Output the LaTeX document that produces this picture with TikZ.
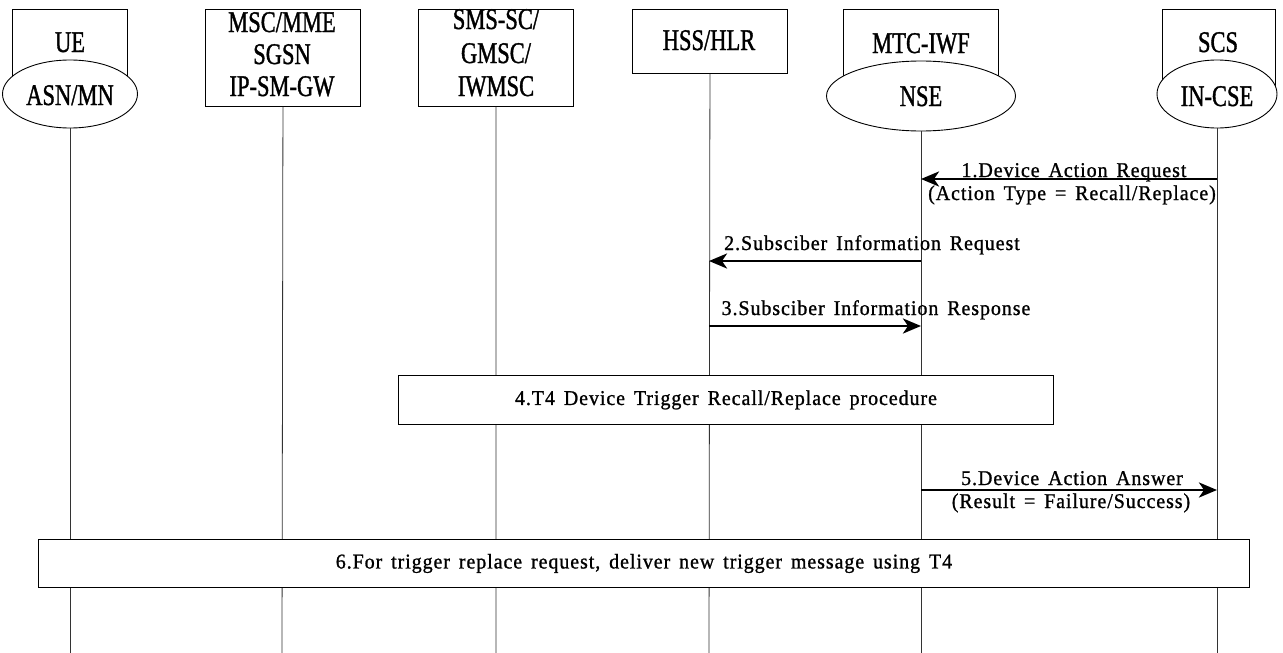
\documentclass[tikz,border=0pt]{standalone}
\usepackage{fontspec}
\newfontfamily\hfont{Liberation Serif}[FakeStretch=0.75,FakeBold=1.2]
\newfontfamily\lfont{Liberation Serif}[FakeStretch=0.95,FakeBold=1.0,WordSpace=1.5,LetterSpace=4.5]
\newcommand\htext{\hfont\fontsize{30}{32}\selectfont}
\newcommand\ltext{\lfont\fontsize{21}{24}\selectfont}
\usetikzlibrary{shapes.geometric,arrows.meta}
\begin{document}
\begin{tikzpicture}[x=1pt,y=-1pt,
 hbox/.style={draw,line width=0.9pt,fill=white,inner sep=0pt,anchor=north west},
 ell/.style={ellipse,draw,line width=0.9pt,fill=white,inner sep=0pt},
 htxt/.style={font=\htext,inner sep=0pt,anchor=base},
 ltxt/.style={font=\ltext,inner sep=0pt,anchor=base},
 life/.style={line width=0.8pt,draw=black!80},
 msg/.style={line width=2.8pt,-{Stealth[length=18pt,width=15pt,inset=5pt]}},
 stepbox/.style={draw,line width=0.9pt,fill=white,inner sep=0pt,anchor=north west,font=\ltext}
]
\useasboundingbox (0,0) rectangle (1283,653);
\fill[white] (0,0) rectangle (1283,653);

% lifeline bottoms
\coordinate (ueE) at (70,653);
\coordinate (mscE) at (282,653);
\coordinate (smsE) at (496,653);
\coordinate (hssE) at (709,653);
\coordinate (nseE) at (921,653);
\coordinate (cseE) at (1217,653);

% header boxes
\node[hbox, minimum width=115, minimum height=86] (uebox) at (12,9) {};
\node[hbox, minimum width=155, minimum height=97] (msc) at (205,9) {};
\node[hbox, minimum width=155, minimum height=97] (sms) at (418,9) {};
\node[hbox, minimum width=155, minimum height=64] (hss) at (632,9) {};
\node[hbox, minimum width=155, minimum height=86] (mtcbox) at (843,9) {};
\node[hbox, minimum width=113, minimum height=86] (scsbox) at (1162,9) {};

\node[htxt] (uet) at (70,52) {UE};
\node[htxt] (msct1) at (282,32) {MSC/MME};
\node[htxt] (msct2) at (282,64) {SGSN};
\node[htxt] (msct3) at (282,96) {IP-SM-GW};
\node[htxt] (smst1) at (496,29) {SMS-SC/};
\node[htxt] (smst2) at (496,63) {GMSC/};
\node[htxt] (smst3) at (496,96) {IWMSC};
\node[htxt] (hsst) at (709,50) {HSS/HLR};
\node[htxt] (mtct) at (921,53) {MTC-IWF};
\node[htxt] (scst) at (1218,52) {SCS};

% ellipses
\node[ell, minimum width=135, minimum height=68] (ue) at (70,94) {};
\node[ell, minimum width=189, minimum height=70] (nse) at (921,96) {};
\node[ell, minimum width=120, minimum height=68] (cse) at (1217,94) {};
\node[htxt] (uel) at (70,105) {ASN/MN};
\node[htxt] (nsel) at (921,106) {NSE};
\node[htxt] (csel) at (1217,106) {IN-CSE};

% lifelines
\draw[life] (ue.south) -- (ueE);
\draw[life] (msc.south) -- (mscE);
\draw[life] (sms.south) -- (smsE);
\draw[life] (hss.south) -- (hssE);
\draw[life] (nse.south) -- (nseE);
\draw[life] (cse.south) -- (cseE);

% message rows
\coordinate (r1) at (0,179);
\coordinate (r2) at (0,261);
\coordinate (r3) at (0,326);
\coordinate (r5) at (0,490);

\draw[msg] (cseE |- r1) -- (nseE |- r1);
\node[ltxt] (l1a) at (1074,177) {1.Device Action Request};
\node[ltxt] (l1b) at (1072,200) {(Action Type = Recall/Replace)};

\draw[msg] (nseE |- r2) -- (hssE |- r2);
\node[ltxt] (l2) at (872,250) {2.Subsciber Information Request};

\draw[msg] (hssE |- r3) -- (nseE |- r3);
\node[ltxt] (l3) at (876,315) {3.Subsciber Information Response};

\node[stepbox, minimum width=655, minimum height=49] (p4) at (398,375) {4.T4 Device Trigger Recall/Replace procedure};

\draw[msg] (nseE |- r5) -- (cseE |- r5);
\node[ltxt] (l5a) at (1072,485) {5.Device Action Answer};
\node[ltxt] (l5b) at (1071,508) {(Result = Failure/Success)};

\node[stepbox, minimum width=1211, minimum height=48] (p6) at (38,539) {6.For trigger replace request, deliver new trigger message using T4};
\end{tikzpicture}
\end{document}
